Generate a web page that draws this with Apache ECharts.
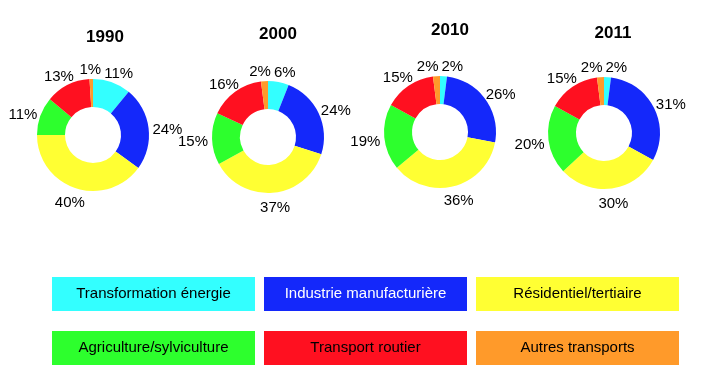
<!DOCTYPE html>
<html>
<head>
<meta charset="utf-8">
<script src="https://cdn.jsdelivr.net/npm/echarts@6/dist/echarts.min.js"></script>
<style>
  html, body { margin: 0; padding: 0; background: #fff; }
  #chart { width: 710px; height: 375px; }
</style>
</head>
<body>
<div id="chart"></div>
<script>
// data
const years = ['1990', '2000', '2010', '2011']
const sectors = [
	'Transformation énergie',
	'Industrie manufacturière',
	'Résidentiel/tertiaire',
	'Agriculture/sylviculture',
	'Transport routier',
	'Autres transports'
]
const shares1990 = [11, 24, 40, 11, 13, 1]
const shares2000 = [6, 24, 37, 15, 16, 2]
const shares2010 = [2, 26, 36, 19, 15, 2]
const shares2011 = [2, 31, 30, 20, 15, 2]

const colors = ['#33ffff', '#1428fa', '#ffff33', '#2dff2d', '#ff1020', '#ff9a2a']
const textColors = ['#000', '#fff', '#000', '#000', '#000', '#000']

// layout
const centers = [[93, 135], [268, 137], [440, 132], [604, 133]]
const titleX = [100, 273, 445, 608]
const titleTop = [24, 21, 17, 20]
const inner = 28
const outer = 56
const labelGap = 4
const font = 'Liberation Sans, Arial, sans-serif'
const labelSize = 15

const allShares = [shares1990, shares2000, shares2010, shares2011]

const node = document.getElementById('chart')
const myChart = echarts.init(node)

const ctx = document.createElement('canvas').getContext('2d')
ctx.font = labelSize + 'px ' + font

// label boxes: pushed out along the mid angle, then spread apart where they touch
function labelBoxes(values, center) {
	const total = values.reduce((a, b) => a + b, 0)
	const h = labelSize + 2
	const r = outer + labelGap
	let before = 0
	const boxes = values.map(v => {
		const angle = (before + v / 2) / total * Math.PI * 2
		before += v
		const sx = Math.sin(angle)
		const sy = -Math.cos(angle)
		const w = ctx.measureText(v + '%').width
		return {
			w: w,
			x: center[0] + sx * r + sx * w / 2,
			y: center[1] + sy * r + sy * h / 2 + 3
		}
	})
	for (let pass = 0; pass < 4; pass++) {
		for (let i = 0; i < boxes.length; i++) {
			const a = boxes[i]
			const b = boxes[(i + 1) % boxes.length]
			const need = (a.w + b.w) / 2 + 3
			const dx = Math.abs(a.x - b.x)
			if (dx < need && Math.abs(a.y - b.y) < h) {
				const push = (need - dx) / 2
				const left = a.x <= b.x ? a : b
				const right = left === a ? b : a
				left.x -= push
				right.x += push
			}
		}
	}
	return boxes
}

const boxesByYear = allShares.map((s, i) => labelBoxes(s, centers[i]))

function placeLabel(params) {
	const box = boxesByYear[params.seriesIndex][params.dataIndex]
	return {
		x: box.x,
		y: box.y,
		align: 'center',
		verticalAlign: 'middle'
	}
}

const rich = {}
sectors.forEach((s, i) => {
	rich['c' + i] = {
		width: 203,
		height: 34,
		lineHeight: 34,
		align: 'center',
		backgroundColor: colors[i],
		color: textColors[i],
		fontSize: 15,
		fontFamily: font
	}
})

function legendRow(names, top) {
	return {
		top: top,
		left: 42,
		orient: 'horizontal',
		itemGap: 4,
		itemWidth: 0,
		itemHeight: 0,
		selectedMode: false,
		data: names,
		formatter: name => '{c' + sectors.indexOf(name) + '|' + name + '}',
		textStyle: { rich: rich }
	}
}

const option = {
	animation: false,
	color: colors,
	title: years.map((y, i) => ({
		text: y,
		left: titleX[i],
		top: titleTop[i],
		textAlign: 'center',
		textStyle: {
			fontFamily: font,
			fontWeight: 'bold',
			fontSize: 17,
			color: '#000'
		}
	})),
	legend: [
		legendRow(sectors.slice(0, 3), 272),
		legendRow(sectors.slice(3), 326)
	],
	series: years.map((y, i) => ({
		name: y,
		type: 'pie',
		center: centers[i],
		radius: [inner, outer],
		startAngle: 90,
		clockwise: true,
		avoidLabelOverlap: false,
		itemStyle: { borderWidth: 0 },
		label: {
			show: true,
			position: 'outside',
			formatter: '{c}%',
			color: '#000',
			fontSize: labelSize,
			fontFamily: font
		},
		labelLine: { show: false },
		labelLayout: placeLabel,
		emphasis: { scale: false },
		data: sectors.map((s, k) => ({ name: s, value: allShares[i][k] }))
	}))
}

myChart.setOption(option)

window.addEventListener('resize', () => {
	myChart.resize()
})
</script>
</body>
</html>
